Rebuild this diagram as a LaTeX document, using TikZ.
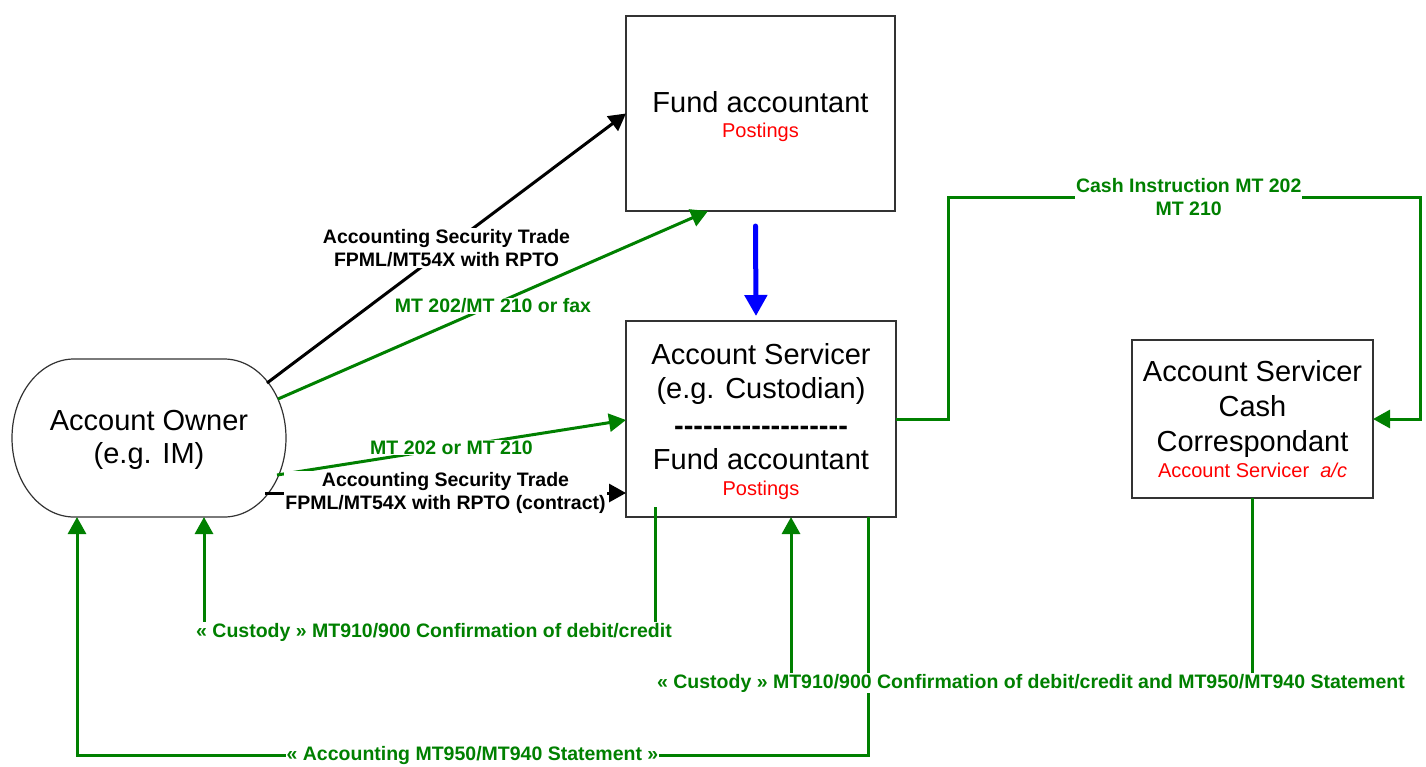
\documentclass[tikz,border=0pt]{standalone}
\usepackage{fontspec}
\setmainfont{Liberation Sans}
\usetikzlibrary{arrows.meta,calc}
\definecolor{grn}{RGB}{0,128,0}
\definecolor{rd}{RGB}{255,0,0}
\definecolor{blu}{RGB}{0,0,255}
\newcommand\bigfont{\fontsize{29}{34}\selectfont}
\newcommand\ccfont{\fontsize{29}{35}\selectfont}
\newcommand\ownerfont{\fontsize{29}{33}\selectfont}
\newcommand\redfont{\fontsize{20}{24}\selectfont\color{rd}}
\newcommand\labfont{\fontsize{19.5}{23}\selectfont\bfseries}
\newcommand\topstrut{\rule{0pt}{27pt}}
\newcommand\dashrow{\mbox{-}\mbox{-}\mbox{-}\mbox{-}\mbox{-}\mbox{-}\mbox{-}\mbox{-}\mbox{-}\mbox{-}\mbox{-}\mbox{-}\mbox{-}\mbox{-}\mbox{-}\mbox{-}\mbox{-}\mbox{-}}
\begin{document}
\begin{tikzpicture}[x=1pt,y=1pt,
  box/.style={draw=black!80,line width=1.2pt,fill=white,inner sep=0pt,outer sep=0pt,align=center,font=\bigfont},
  conn/.style={line width=3pt,-{Triangle[length=17pt,width=18pt]}},
  blk/.style={conn,black},
  grnl/.style={conn,grn},
  bluel/.style={line width=5pt,blu,line cap=round,-{Triangle[length=21pt,width=22pt]}},
  lab/.style={fill=white,inner sep=1pt,font=\labfont,align=center},
  glab/.style={lab,text=grn}]
\useasboundingbox[fill=white] (0,0) rectangle (1426,-766);

% nodes
\node[box,minimum width=269pt,minimum height=195pt] (ft) at (760.5,-113.5)
  {\topstrut Fund accountant\\[-8.5pt]{\redfont Postings}};
\node[box,minimum width=270pt,minimum height=196pt] (as) at (761,-419)
  {\topstrut Account Servicer\\(e.g. Custodian)\\[3pt]\textbf{\dashrow}\\Fund accountant\\[-8pt]{\redfont Postings}};
\node[box,font=\ccfont,minimum width=241pt,minimum height=158pt] (cc) at (1252.5,-419)
  {Account Servicer\\Cash\\Correspondant\\[-9.5pt]{\redfont Account Servicer\ \ \textit{a/c}}};
\node[inner sep=0pt,outer sep=0pt,align=center,font=\ownerfont,minimum width=274pt,minimum height=158pt] (owner) at (149,-438)
  {\rule{0pt}{24pt}Account Owner\\(e.g. IM)};
\draw[black!80,line width=1.2pt] ([xshift=62pt]owner.north west) -- ([xshift=-62pt]owner.north east)
  arc[start angle=90,end angle=-90,x radius=62pt,y radius=79pt]
  -- ([xshift=62pt]owner.south west)
  arc[start angle=270,end angle=90,x radius=62pt,y radius=79pt] -- cycle;

% connectors from the owner
\draw[blk] ($(owner.center)+(118,55)$) -- (ft.west)
  node[lab,midway] {Accounting Security Trade\\FPML/MT54X with RPTO};
\draw[grnl] ($(owner.center)+(129,39)$) -- ([xshift=-52.5pt]ft.south)
  node[glab,midway,yshift=-1pt] {MT 202/MT 210 or fax};
\draw[grnl] ($(owner.center)+(128,-37)$) -- ([yshift=-1pt]as.west)
  node[glab,midway] {MT 202 or MT 210};
\draw[blk] ($(owner.center)+(116,-55)$) -- ([yshift=-74pt]as.west)
  node[lab,midway] {Accounting Security Trade\\FPML/MT54X with RPTO (contract)};

% blue arrow
\draw[bluel] ([xshift=-5pt,yshift=-15pt]ft.south) -- ([xshift=-5pt,yshift=5pt]as.north);

% cash instruction
\draw[grnl] (as.east) -- ++(52,0) |- ++(472,222)
  node[glab,pos=0.755] {Cash Instruction MT 202\\MT 210}
  |- (cc.east);

% bottom connectors
\draw[grnl] ([xshift=-106pt,yshift=10pt]as.south) -- ++(0,-125) -| ([xshift=55pt]owner.south)
  node[glab,pos=0.245] {« Custody » MT910/900 Confirmation of debit/credit};
\draw[grnl] ([xshift=107pt]as.south) -- ++(0,-238) -| ([xshift=-72pt]owner.south)
  node[glab,pos=0.25] {« Accounting MT950/MT940 Statement »};
\draw[grnl] (cc.south) -- ++(0,-185) -| ([xshift=30pt]as.south)
  node[glab,pos=0.24] {« Custody » MT910/900 Confirmation of debit/credit and MT950/MT940 Statement};
\end{tikzpicture}
\end{document}
